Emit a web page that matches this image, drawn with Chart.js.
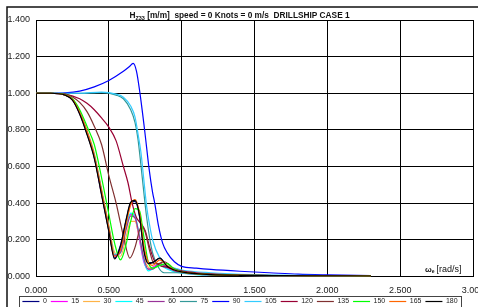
<!DOCTYPE html>
<html>
<head>
<meta charset="utf-8">
<script src="https://cdn.jsdelivr.net/npm/chart.js@4.4.0/dist/chart.umd.min.js"></script>
<style>html,body{margin:0;padding:0;background:#fff;}</style>
</head>
<body>
<canvas id="rao" width="478" height="307"></canvas>
<script>
// Heave RAO values, one array per heading
const headings = ['0', '15', '30', '45', '60', '75', '90', '105', '120', '135', '150', '165', '180'];

// shared frequency grid for the head / following sea bundle
const omegaBundle = [0, 0.1, 0.2, 0.25, 0.3, 0.35, 0.4, 0.45, 0.5, 0.54, 0.58, 0.62, 0.65, 0.68, 0.71, 0.74, 0.77, 0.8, 0.85, 0.9, 0.95, 1.0, 1.1, 1.2, 1.4, 1.7, 2.0, 2.3];
const rao0   = [1, 1, 0.99, 0.965, 0.89, 0.78, 0.65, 0.45, 0.25, 0.10, 0.17, 0.31, 0.40, 0.41, 0.33, 0.15, 0.075, 0.075, 0.10, 0.055, 0.035, 0.025, 0.015, 0.01, 0.006, 0.004, 0.003, 0.002];
const rao15  = [1, 1, 0.99, 0.965, 0.89, 0.785, 0.655, 0.455, 0.26, 0.11, 0.14, 0.28, 0.34, 0.32, 0.20, 0.08, 0.04, 0.05, 0.07, 0.045, 0.03, 0.02, 0.012, 0.008, 0.005, 0.003, 0.002, 0.001];
const rao30  = [1, 1, 0.99, 0.968, 0.90, 0.80, 0.675, 0.48, 0.28, 0.13, 0.11, 0.22, 0.30, 0.30, 0.21, 0.10, 0.05, 0.04, 0.07, 0.05, 0.03, 0.02, 0.012, 0.008, 0.005, 0.003, 0.002, 0.001];
const rao45  = [1, 1, 0.99, 0.967, 0.895, 0.79, 0.665, 0.47, 0.27, 0.12, 0.13, 0.27, 0.345, 0.33, 0.22, 0.09, 0.03, 0.04, 0.06, 0.04, 0.025, 0.018, 0.01, 0.007, 0.005, 0.003, 0.002, 0.001];
const rao60  = [1, 1, 0.99, 0.966, 0.893, 0.79, 0.66, 0.465, 0.265, 0.115, 0.13, 0.26, 0.33, 0.32, 0.22, 0.10, 0.04, 0.04, 0.07, 0.05, 0.03, 0.02, 0.012, 0.008, 0.005, 0.003, 0.002, 0.001];
const rao150 = [1, 1, 0.992, 0.97, 0.91, 0.82, 0.72, 0.54, 0.34, 0.18, 0.09, 0.18, 0.30, 0.37, 0.36, 0.22, 0.08, 0.045, 0.06, 0.07, 0.04, 0.025, 0.015, 0.01, 0.006, 0.004, 0.003, 0.002];
const rao165 = [1, 1, 0.99, 0.967, 0.895, 0.79, 0.66, 0.465, 0.265, 0.11, 0.145, 0.29, 0.39, 0.42, 0.35, 0.17, 0.08, 0.06, 0.09, 0.06, 0.035, 0.025, 0.015, 0.01, 0.006, 0.004, 0.003, 0.002];
const rao180 = [1, 1, 0.99, 0.962, 0.885, 0.775, 0.645, 0.445, 0.245, 0.095, 0.165, 0.315, 0.405, 0.415, 0.335, 0.14, 0.07, 0.075, 0.10, 0.055, 0.035, 0.025, 0.015, 0.01, 0.006, 0.004, 0.003, 0.002];

// near-beam headings have their own grids
const omega75  = [0, 0.2, 0.3, 0.45, 0.55, 0.6, 0.65, 0.68, 0.7, 0.72, 0.74, 0.76, 0.78, 0.8, 0.84, 0.88, 0.92, 1.0, 1.1, 1.3, 1.6, 2.0, 2.3];
const rao75    = [1, 1, 1.0, 1.003, 0.99, 0.97, 0.91, 0.84, 0.75, 0.61, 0.46, 0.32, 0.21, 0.13, 0.05, 0.02, 0.02, 0.02, 0.015, 0.008, 0.004, 0.002, 0.001];
const omega90  = [0, 0.1, 0.2, 0.3, 0.4, 0.5, 0.6, 0.64, 0.667, 0.69, 0.712, 0.747, 0.776, 0.8, 0.815, 0.84, 0.87, 0.9, 0.95, 1.0, 1.1, 1.2, 1.4, 1.6, 1.8, 2.0, 2.3];
const rao90    = [1, 1, 1.002, 1.012, 1.035, 1.07, 1.12, 1.145, 1.163, 1.12, 1.01, 0.79, 0.59, 0.46, 0.40, 0.28, 0.18, 0.13, 0.08, 0.055, 0.045, 0.038, 0.028, 0.02, 0.012, 0.008, 0.004];
const omega105 = [0, 0.2, 0.3, 0.45, 0.55, 0.6, 0.65, 0.68, 0.7, 0.72, 0.74, 0.76, 0.78, 0.8, 0.85, 0.9, 0.95, 1.0, 1.2, 1.5, 2.0, 2.3];
const rao105   = [1, 1, 1.0, 1.006, 0.995, 0.978, 0.93, 0.87, 0.78, 0.68, 0.53, 0.38, 0.28, 0.20, 0.10, 0.06, 0.045, 0.035, 0.02, 0.01, 0.005, 0.003];
const omega120 = [0, 0.1, 0.2, 0.3, 0.35, 0.4, 0.45, 0.5, 0.55, 0.6, 0.632, 0.66, 0.69, 0.72, 0.75, 0.78, 0.81, 0.85, 0.9, 1.0, 1.1, 1.3, 1.6, 2.0, 2.3];
const rao120   = [1, 1, 0.995, 0.97, 0.945, 0.91, 0.865, 0.815, 0.74, 0.60, 0.51, 0.40, 0.32, 0.29, 0.25, 0.16, 0.09, 0.06, 0.05, 0.03, 0.02, 0.01, 0.005, 0.003, 0.002];
const omega135 = [0, 0.1, 0.2, 0.25, 0.3, 0.35, 0.4, 0.45, 0.5, 0.55, 0.6, 0.644, 0.68, 0.71, 0.725, 0.75, 0.78, 0.81, 0.84, 0.88, 0.95, 1.05, 1.2, 1.5, 2.0, 2.3];
const rao135   = [1, 1, 0.995, 0.98, 0.95, 0.9, 0.82, 0.72, 0.55, 0.40, 0.22, 0.10, 0.16, 0.25, 0.27, 0.24, 0.14, 0.07, 0.07, 0.08, 0.04, 0.02, 0.012, 0.006, 0.003, 0.002];

const seriesOmega = [omegaBundle, omegaBundle, omegaBundle, omegaBundle, omegaBundle, omega75, omega90, omega105, omega120, omega135, omegaBundle, omegaBundle, omegaBundle];
const seriesRao = [rao0, rao15, rao30, rao45, rao60, rao75, rao90, rao105, rao120, rao135, rao150, rao165, rao180];
const seriesColors = ['#000080', '#FF00FF', '#FFB347', '#00FFFF', '#993399', '#339999', '#0000FF', '#33CCFF', '#990033', '#803030', '#00FF00', '#FF6600', '#000000'];

const datasets = headings.map((h, i) => ({
    label: h,
    data: seriesOmega[i].map((w, k) => ({ x: w, y: seriesRao[i][k] })),
    borderColor: seriesColors[i],
    backgroundColor: seriesColors[i],
    borderWidth: 1.2,
    pointRadius: 0,
    cubicInterpolationMode: 'monotone',
    order: headings.length - i   // last heading drawn on top, like Excel
}));

const fam = '"Liberation Sans", Arial, sans-serif';

// outer frame, title with subscript, axis unit, legend box
const decorations = {
    id: 'decorations',
    afterDraw(chart) {
        const ctx = chart.ctx;
        ctx.save();
        ctx.strokeStyle = '#111';
        ctx.lineWidth = 1.5;
        ctx.strokeRect(7, 7, 490, 320);

        // title
        const parts = [
            ['H', 'bold 8.3px ' + fam, 0],
            ['Z33', 'bold 5.5px ' + fam, 2],
            [' [m/m]  speed = 0 Knots = 0 m/s  DRILLSHIP CASE 1', 'bold 8.3px ' + fam, 0]
        ];
        let total = 0;
        parts.forEach(p => { ctx.font = p[1]; total += ctx.measureText(p[0]).width; });
        let x = 239.5 - total / 2;
        ctx.fillStyle = '#111';
        ctx.textBaseline = 'alphabetic';
        parts.forEach(p => {
            ctx.font = p[1];
            ctx.fillText(p[0], x, 18 + p[2]);
            x += ctx.measureText(p[0]).width;
        });

        // x axis unit inside plot
        ctx.font = 'bold 8px ' + fam;
        ctx.fillText('ω', 425, 272);
        let ux = 425 + ctx.measureText('ω').width;
        ctx.font = 'bold 5px ' + fam;
        ctx.fillText('e', ux, 273);
        ux += ctx.measureText('e').width + 2;
        ctx.font = '9px ' + fam;
        ctx.fillText('[rad/s]', ux, 272);

        // legend box
        const boxes = chart.legend.legendHitBoxes;
        if (boxes && boxes.length) {
            const l = Math.min(...boxes.map(b => b.left)) - 3;
            const r = Math.max(...boxes.map(b => b.left + b.width)) + 4;
            ctx.strokeStyle = '#444';
            ctx.lineWidth = 1;
            ctx.strokeRect(Math.round(l) + 0.5, 296.5, Math.round(r - l), 40);
        }
        ctx.restore();
    }
};

const ctx = document.getElementById('rao').getContext('2d');
new Chart(ctx, {
    type: 'line',
    data: { datasets: datasets },
    options: {
        responsive: false,
        animation: false,
        events: [],
        layout: { autoPadding: false, padding: { top: 20, left: 7, right: 5, bottom: -8 } },
        scales: {
            x: {
                type: 'linear',
                min: 0, max: 3,
                afterFit: s => { s.height = 17.6; s.paddingLeft = 0; s.paddingRight = 0; },
                ticks: {
                    stepSize: 0.5,
                    padding: 9,
                    color: '#222',
                    font: { family: fam, size: 9 },
                    callback: v => v.toFixed(3)
                },
                grid: { color: '#000', lineWidth: 1, drawTicks: false },
                border: { color: '#000', width: 1 }
            },
            y: {
                min: 0, max: 1.4,
                afterFit: s => { s.width = 29; s.paddingTop = 0; s.paddingBottom = 0; },
                ticks: {
                    stepSize: 0.2,
                    padding: 6,
                    color: '#222',
                    font: { family: fam, size: 9 },
                    callback: v => v.toFixed(3)
                },
                grid: { color: '#000', lineWidth: 1, drawTicks: false },
                border: { color: '#000', width: 1 }
            }
        },
        plugins: {
            title: { display: false },
            tooltip: { enabled: false },
            legend: {
                position: 'bottom',
                labels: {
                    usePointStyle: true,
                    pointStyle: 'line',
                    pointStyleWidth: 17,
                    padding: 4,
                    color: '#222',
                    font: { family: fam, size: 7 },
                    sort: (a, b) => a.datasetIndex - b.datasetIndex
                }
            }
        }
    },
    plugins: [decorations]
});
</script>
</body>
</html>
